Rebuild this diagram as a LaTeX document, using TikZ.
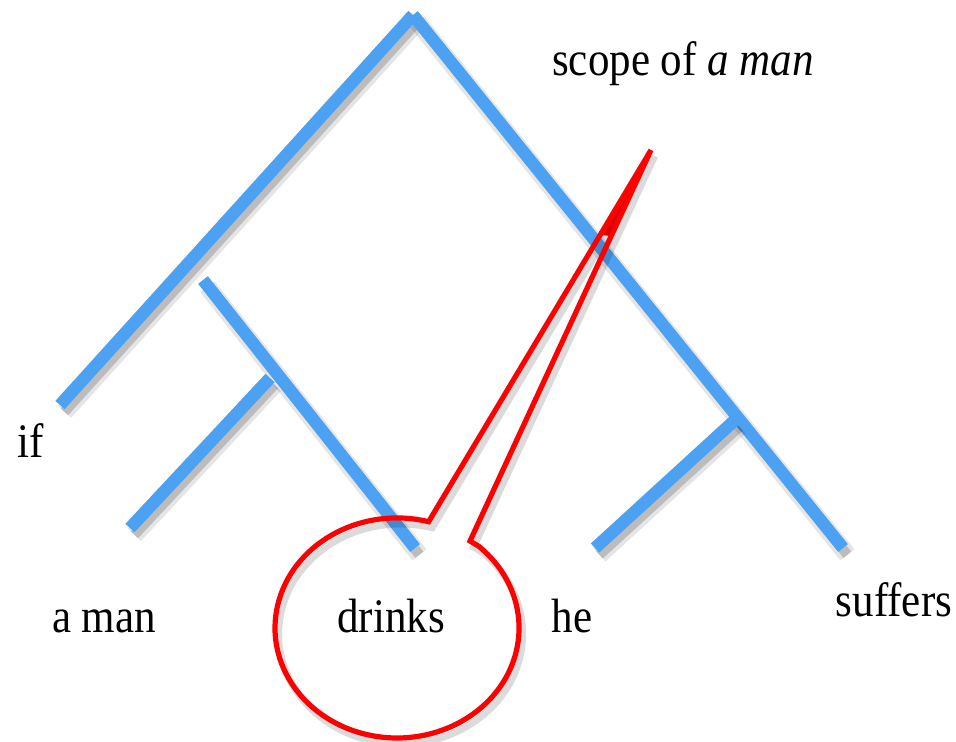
\documentclass[tikz,border=0pt]{standalone}
\usepackage{fontspec}
\setmainfont{Liberation Serif}
\definecolor{treeblue}{RGB}{77,161,243}
\definecolor{scopered}{RGB}{255,0,0}
\newcommand\tallword[1]{\scalebox{1}[1.12]{#1}}
\begin{document}
\begin{tikzpicture}[x=0.5pt,y=-0.5pt,
  branch/.style={draw=treeblue, line width=6.2pt,
    preaction={draw=black, draw opacity=0.10, line width=9pt, transform canvas={shift={(2.2pt,-3.4pt)}}},
    preaction={draw=black, draw opacity=0.18, line width=5pt, transform canvas={shift={(2.2pt,-3.4pt)}}}},
  scopeline/.style={draw=scopered, line width=2.6pt, line join=miter, miter limit=40,
    preaction={draw=black, draw opacity=0.14, line width=3.5pt, transform canvas={shift={(1.8pt,-3pt)}}}},
  lbl/.style={anchor=base, inner sep=0pt, font=\fontsize{21.5}{24}\selectfont}]
\useasboundingbox (0,0) rectangle (956,741);
% tree points
\coordinate (top) at (413,15);
\coordinate (ifend) at (60,405);
\coordinate (sufend) at (843,548);
\coordinate (midtop) at (203,280);
\coordinate (drinksend) at (415,548);
\coordinate (mid) at (270,378);
\coordinate (amanend) at (130,528);
\coordinate (right) at (735,420);
\coordinate (heend) at (595,548);
% tree branches
\draw[branch] (top) -- (ifend);
\draw[branch] (top) -- (sufend);
\draw[branch] (midtop) -- (drinksend);
\draw[branch] (mid) -- (amanend);
\draw[branch] (right) -- (heend);
% scope indicator
\coordinate (tip) at (651,150);
\coordinate (loopin) at (428.6,521.7);
\coordinate (loopout) at (470,541);
\coordinate (wedgeL) at (601,235);
\coordinate (wedgeR) at (611,236);
\fill[scopered] (tip) -- (wedgeL) -- (wedgeR) -- cycle;
\draw[scopeline] (tip) -- (loopin)
  arc[start angle=75, end angle=408, x radius=61pt, y radius=55pt]
  -- (loopout) -- (tip);
% labels
\node[lbl] (if) at (31,457) {\tallword{if}};
\node[lbl] (aman) at (104,632) {\tallword{a man}};
\node[lbl] (drinks) at (391,632) {\tallword{drinks}};
\node[lbl] (he) at (572,632) {\tallword{he}};
\node[lbl] (suffers) at (894,616) {\tallword{suffers}};
\node[lbl] (scope) at (683,75) {\tallword{scope of \textit{a man}}};
\end{tikzpicture}
\end{document}
